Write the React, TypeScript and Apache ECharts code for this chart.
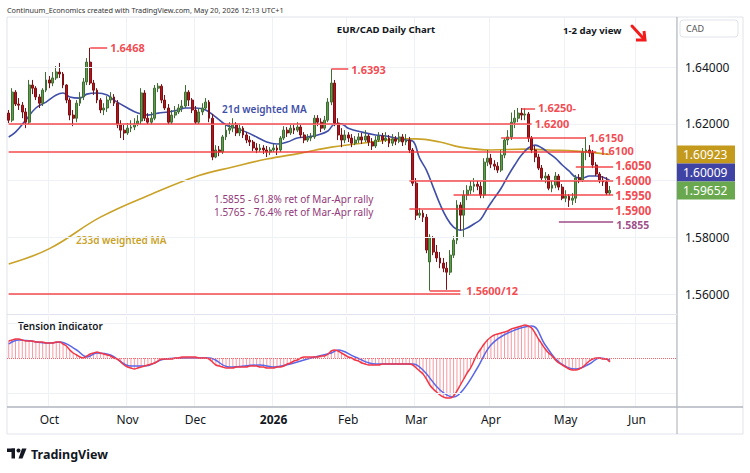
import React, { useEffect, useRef } from "react";
import * as echarts from "echarts";

const FONT = "'Noto Sans', 'DejaVu Sans', sans-serif";

// ---------- categories: daily (weekday) sessions, Sep 15 2025 .. Jun 16 2026 ----------
function buildDates(): string[] {
  const out: string[] = [];
  const d = new Date(Date.UTC(2025, 8, 15));
  const end = Date.UTC(2026, 5, 16);
  while (d.getTime() <= end) {
    const wd = d.getUTCDay();
    if (wd !== 0 && wd !== 6) out.push(d.toISOString().slice(0, 10));
    d.setUTCDate(d.getUTCDate() + 1);
  }
  return out;
}
const dates = buildDates();
const monthNames: Record<number, string> = { 10: "Oct", 11: "Nov", 12: "Dec", 1: "2026", 2: "Feb", 3: "Mar", 4: "Apr", 5: "May", 6: "Jun" };

// ---------- EUR/CAD daily OHLC ----------
const opens = [
  1.6238, 1.6213, 1.6312, 1.6270, 1.6266, 1.6242, 1.6206, 1.6337, 1.6326, 1.6295,
  1.6273, 1.6319, 1.6355, 1.6344, 1.6362, 1.6383, 1.6376, 1.6337, 1.6284, 1.6231,
  1.6220, 1.6273, 1.6295, 1.6348, 1.6418, 1.6344, 1.6319, 1.6284, 1.6249, 1.6256,
  1.6284, 1.6295, 1.6273, 1.6196, 1.6178, 1.6168, 1.6185, 1.6189, 1.6199, 1.6210,
  1.6309, 1.6220, 1.6206, 1.6220, 1.6326, 1.6333, 1.6284, 1.6256, 1.6206, 1.6231,
  1.6242, 1.6256, 1.6263, 1.6312, 1.6284, 1.6249, 1.6206, 1.6242, 1.6256, 1.6277,
  1.6220, 1.6083, 1.6108, 1.6101, 1.6154, 1.6178, 1.6185, 1.6196, 1.6168, 1.6185,
  1.6161, 1.6143, 1.6136, 1.6115, 1.6108, 1.6115, 1.6108, 1.6101, 1.6108, 1.6115,
  1.6108, 1.6150, 1.6178, 1.6168, 1.6185, 1.6178, 1.6189, 1.6161, 1.6143, 1.6150,
  1.6154, 1.6220, 1.6206, 1.6185, 1.6213, 1.6277, 1.6344, 1.6203, 1.6161, 1.6143,
  1.6161, 1.6150, 1.6132, 1.6143, 1.6154, 1.6143, 1.6157, 1.6136, 1.6122, 1.6143,
  1.6157, 1.6143, 1.6150, 1.6132, 1.6147, 1.6139, 1.6154, 1.6136, 1.6143, 1.6108,
  1.5991, 1.5878, 1.5885, 1.5871, 1.5713, 1.5797, 1.5748, 1.5727, 1.5709, 1.5691,
  1.5677, 1.5737, 1.5790, 1.5914, 1.5878, 1.5949, 1.5966, 1.5980, 1.5987, 1.5980,
  1.5949, 1.6065, 1.6079, 1.6058, 1.6051, 1.6037, 1.6090, 1.6143, 1.6154, 1.6206,
  1.6220, 1.6238, 1.6231, 1.6235, 1.6150, 1.6108, 1.6083, 1.6044, 1.6009, 1.6016,
  1.5973, 1.5984, 1.6016, 1.5977, 1.5938, 1.5945, 1.5931, 1.5938, 1.6009, 1.6002,
  1.6101, 1.6108, 1.6097, 1.6055, 1.6023, 1.6002, 1.5995, 1.5956,
];
const closes = [
  1.6213, 1.6312, 1.6270, 1.6266, 1.6242, 1.6206, 1.6337, 1.6326, 1.6295, 1.6273,
  1.6319, 1.6355, 1.6344, 1.6362, 1.6383, 1.6376, 1.6337, 1.6284, 1.6231, 1.6220,
  1.6273, 1.6295, 1.6348, 1.6418, 1.6344, 1.6319, 1.6284, 1.6249, 1.6256, 1.6284,
  1.6295, 1.6273, 1.6196, 1.6178, 1.6168, 1.6185, 1.6189, 1.6199, 1.6210, 1.6309,
  1.6220, 1.6206, 1.6220, 1.6326, 1.6333, 1.6284, 1.6256, 1.6206, 1.6231, 1.6242,
  1.6256, 1.6263, 1.6312, 1.6284, 1.6249, 1.6206, 1.6242, 1.6256, 1.6277, 1.6220,
  1.6083, 1.6108, 1.6101, 1.6154, 1.6178, 1.6185, 1.6196, 1.6168, 1.6185, 1.6161,
  1.6143, 1.6136, 1.6115, 1.6108, 1.6115, 1.6108, 1.6101, 1.6108, 1.6115, 1.6108,
  1.6150, 1.6178, 1.6168, 1.6185, 1.6178, 1.6189, 1.6161, 1.6143, 1.6150, 1.6154,
  1.6220, 1.6206, 1.6185, 1.6213, 1.6277, 1.6344, 1.6203, 1.6161, 1.6143, 1.6161,
  1.6150, 1.6132, 1.6143, 1.6154, 1.6143, 1.6157, 1.6136, 1.6122, 1.6143, 1.6157,
  1.6143, 1.6150, 1.6132, 1.6147, 1.6139, 1.6154, 1.6136, 1.6143, 1.6108, 1.5991,
  1.5878, 1.5885, 1.5871, 1.5755, 1.5801, 1.5748, 1.5727, 1.5709, 1.5691, 1.5677,
  1.5737, 1.5790, 1.5914, 1.5878, 1.5949, 1.5966, 1.5980, 1.5987, 1.5980, 1.5949,
  1.6065, 1.6079, 1.6058, 1.6051, 1.6037, 1.6090, 1.6143, 1.6154, 1.6206, 1.6220,
  1.6238, 1.6231, 1.6235, 1.6150, 1.6108, 1.6083, 1.6044, 1.6009, 1.6016, 1.5973,
  1.5984, 1.6016, 1.5977, 1.5938, 1.5945, 1.5931, 1.5938, 1.6009, 1.6002, 1.6101,
  1.6108, 1.6097, 1.6055, 1.6023, 1.6002, 1.5995, 1.5956, 1.5965,
];
const highs = [
  1.6249, 1.6326, 1.6319, 1.6291, 1.6277, 1.6256, 1.6355, 1.6355, 1.6333, 1.6305,
  1.6326, 1.6383, 1.6369, 1.6383, 1.6404, 1.6415, 1.6383, 1.6340, 1.6291, 1.6249,
  1.6284, 1.6312, 1.6362, 1.6432, 1.6468, 1.6355, 1.6326, 1.6291, 1.6273, 1.6298,
  1.6312, 1.6305, 1.6284, 1.6213, 1.6196, 1.6203, 1.6213, 1.6220, 1.6231, 1.6326,
  1.6319, 1.6238, 1.6242, 1.6337, 1.6344, 1.6340, 1.6302, 1.6270, 1.6249, 1.6263,
  1.6270, 1.6284, 1.6337, 1.6319, 1.6291, 1.6263, 1.6256, 1.6273, 1.6291, 1.6284,
  1.6235, 1.6125, 1.6122, 1.6161, 1.6196, 1.6206, 1.6220, 1.6206, 1.6199, 1.6192,
  1.6171, 1.6157, 1.6143, 1.6132, 1.6129, 1.6125, 1.6122, 1.6118, 1.6129, 1.6125,
  1.6157, 1.6192, 1.6189, 1.6199, 1.6196, 1.6206, 1.6196, 1.6171, 1.6164, 1.6168,
  1.6231, 1.6231, 1.6220, 1.6228, 1.6291, 1.6393, 1.6355, 1.6220, 1.6185, 1.6178,
  1.6171, 1.6164, 1.6157, 1.6168, 1.6168, 1.6178, 1.6164, 1.6150, 1.6157, 1.6171,
  1.6168, 1.6171, 1.6161, 1.6164, 1.6157, 1.6171, 1.6164, 1.6164, 1.6154, 1.6115,
  1.6009, 1.5903, 1.5896, 1.5882, 1.5811, 1.5804, 1.5773, 1.5748, 1.5727, 1.5713,
  1.5755, 1.5804, 1.5931, 1.5924, 1.5966, 1.5984, 1.6002, 1.6009, 1.6002, 1.5995,
  1.6079, 1.6108, 1.6094, 1.6072, 1.6065, 1.6108, 1.6150, 1.6178, 1.6240, 1.6249,
  1.6256, 1.6256, 1.6255, 1.6242, 1.6157, 1.6122, 1.6094, 1.6055, 1.6030, 1.6023,
  1.6002, 1.6030, 1.6023, 1.5988, 1.5966, 1.5952, 1.5956, 1.6020, 1.6023, 1.6115,
  1.6153, 1.6125, 1.6108, 1.6065, 1.6030, 1.6016, 1.6012, 1.5981,
];
const lows = [
  1.6203, 1.6206, 1.6263, 1.6249, 1.6220, 1.6185, 1.6199, 1.6305, 1.6284, 1.6256,
  1.6263, 1.6312, 1.6326, 1.6333, 1.6355, 1.6362, 1.6326, 1.6273, 1.6213, 1.6192,
  1.6206, 1.6263, 1.6284, 1.6337, 1.6337, 1.6302, 1.6273, 1.6238, 1.6231, 1.6242,
  1.6273, 1.6263, 1.6185, 1.6150, 1.6143, 1.6161, 1.6171, 1.6178, 1.6192, 1.6199,
  1.6210, 1.6196, 1.6199, 1.6213, 1.6312, 1.6273, 1.6249, 1.6196, 1.6199, 1.6220,
  1.6235, 1.6242, 1.6256, 1.6263, 1.6238, 1.6196, 1.6199, 1.6231, 1.6249, 1.6206,
  1.6072, 1.6079, 1.6086, 1.6094, 1.6143, 1.6164, 1.6171, 1.6157, 1.6157, 1.6150,
  1.6132, 1.6122, 1.6104, 1.6097, 1.6101, 1.6094, 1.6083, 1.6090, 1.6101, 1.6090,
  1.6101, 1.6143, 1.6154, 1.6161, 1.6164, 1.6171, 1.6150, 1.6132, 1.6136, 1.6139,
  1.6147, 1.6192, 1.6171, 1.6178, 1.6206, 1.6266, 1.6192, 1.6143, 1.6118, 1.6132,
  1.6136, 1.6118, 1.6125, 1.6132, 1.6129, 1.6136, 1.6122, 1.6108, 1.6115, 1.6136,
  1.6129, 1.6136, 1.6118, 1.6122, 1.6125, 1.6132, 1.6122, 1.6125, 1.6097, 1.5981,
  1.5861, 1.5868, 1.5854, 1.5744, 1.5612, 1.5737, 1.5713, 1.5691, 1.5677, 1.5615,
  1.5667, 1.5727, 1.5776, 1.5825, 1.5797, 1.5931, 1.5952, 1.5959, 1.5966, 1.5938,
  1.5938, 1.6051, 1.6044, 1.6037, 1.6027, 1.6030, 1.6079, 1.6125, 1.6143, 1.6185,
  1.6206, 1.6213, 1.6213, 1.6136, 1.6097, 1.6065, 1.6037, 1.5998, 1.5991, 1.5966,
  1.5959, 1.5973, 1.5966, 1.5931, 1.5924, 1.5907, 1.5914, 1.5921, 1.5991, 1.5995,
  1.6072, 1.6083, 1.6044, 1.6016, 1.5991, 1.5981, 1.5949, 1.5949,
];

// ---------- moving averages (read at sample sessions: [session index, value]) ----------
const ma21Points = [
  [0, 1.6154], [2, 1.6171], [5, 1.6213], [8, 1.6256], [11, 1.6277], [14, 1.6302], [16, 1.6309],
  [18, 1.6295], [21, 1.6291], [23, 1.6305], [26, 1.6309], [29, 1.6302], [31, 1.6284], [35, 1.6256],
  [38, 1.6238], [41, 1.6231], [44, 1.6238], [47, 1.6242], [50, 1.6249], [52, 1.6256], [55, 1.6256],
  [58, 1.6249], [61, 1.6224], [64, 1.6196], [67, 1.6185], [70, 1.6171], [73, 1.6154], [76, 1.6136],
  [79, 1.6129], [82, 1.6136], [85, 1.6150], [88, 1.6154], [91, 1.6161], [94, 1.6175], [96, 1.6199],
  [98, 1.6199], [100, 1.6185], [104, 1.6171], [108, 1.6161], [111, 1.6157], [114, 1.6150], [117, 1.6143],
  [119, 1.6139], [121, 1.6079], [123, 1.6037], [125, 1.5977], [127, 1.5917], [129, 1.5868], [131, 1.5836],
  [133, 1.5825], [135, 1.5833], [137, 1.5847], [139, 1.5864], [141, 1.5903], [143, 1.5938], [145, 1.5973],
  [147, 1.6016], [149, 1.6055], [151, 1.6090], [153, 1.6115], [155, 1.6125], [157, 1.6115], [159, 1.6097],
  [161, 1.6079], [163, 1.6055], [165, 1.6034], [167, 1.6012], [169, 1.6009], [171, 1.6016], [173, 1.6016],
  [175, 1.6012], [177, 1.60009],
];
const ma233Points = [
  [0, 1.5706], [12, 1.5760], [27, 1.5871], [42, 1.5952], [56, 1.6018], [66, 1.6048], [76, 1.6076],
  [86, 1.6097], [95, 1.6118], [107, 1.6136], [116, 1.6147], [120, 1.6147], [127, 1.6136], [133, 1.6118],
  [142, 1.6108], [152, 1.6111], [159, 1.6108], [167, 1.6104], [177, 1.60923],
];

// ---------- Tension indicator ----------
const tension = [
  17, 18, 19, 19, 18, 17, 17, 17, 16, 16, 16, 15, 15, 15, 16, 16, 14, 12, 8, 5,
  3, 1, 0, 2, 4, 5, 6, 5, 4, 3, 2, 0, -1, -4, -7, -9, -10, -11, -10, -9,
  -8, -7, -6, -5, -3, -1, -1, -1, -1, 0, 0, 1, 1, 1, 1, 1, 0, 0, 0, -1,
  -4, -7, -8, -9, -10, -10, -10, -9, -9, -9, -9, -8, -8, -8, -9, -9, -10, -10, -10, -9,
  -9, -8, -6, -5, -3, -2, 0, 1, 1, 1, 1, 1, 2, 2, 4, 7, 8, 7, 5, 3,
  1, 0, -2, -3, -5, -6, -7, -7, -7, -7, -6, -6, -6, -6, -6, -6, -6, -6, -6, -7,
  -10, -13, -16, -21, -27, -31, -34, -37, -39, -40, -40, -38, -33, -27, -21, -15, -10, -3, 4, 9,
  14, 18, 21, 23, 24, 25, 26, 27, 29, 30, 31, 32, 33, 32, 30, 25, 19, 14, 9, 5,
  2, -2, -5, -7, -9, -11, -12, -12, -11, -9, -6, -3, -1, 0, 0, -1, -1, -4,
];
const tensionSignal = [
  [0, 14], [3, 18], [12, 15], [15, 16], [20, 8], [23, 1], [26, 5], [30, 3], [36, -8], [40, -8],
  [46, -1], [53, 0], [59, 0], [65, -9], [74, -7], [78, -9], [84, -5], [89, 0], [95, 5], [97, 8],
  [102, 1], [108, -6], [119, -6], [122, -12], [127, -32], [131, -39], [134, -31], [138, -10],
  [142, 13], [147, 25], [154, 32], [158, 13], [162, -4], [167, -11], [171, -6], [174, 0], [177, -2],
];

const priceTicks = [1.56, 1.58, 1.62, 1.64];
const priceGrid = [1.56, 1.58, 1.6, 1.62, 1.64];
const lastClose = 1.59652;
const lastMa21 = 1.60009;
const lastMa233 = 1.60923;

const RED = "#f2343b";
const PURPLE = "#93387a";
const levels = [
  { p: 1.6468, a: 24, b: 29, t: "1.6468", c: RED, fs: 11, d: 3, dy: 0 },
  { p: 1.6393, a: 95, b: 100, t: "1.6393", c: RED, fs: 11, d: 3, dy: 0 },
  { p: 1.6255, a: 151, b: 155, t: "1.6250-", c: RED, fs: 11, d: 3, dy: -1 },
  { p: 1.62, a: 0, b: 154, t: "1.6200", c: RED, fs: 11, d: 3, dy: 0 },
  { p: 1.615, a: 145, b: 170, t: "1.6150", c: RED, fs: 11, d: 3, dy: -1 },
  { p: 1.61, a: 0, b: 173, t: "1.6100", c: RED, fs: 11, d: 3, dy: -2 },
  { p: 1.605, a: 167, b: 178, t: "1.6050", c: RED, fs: 11.5, d: 2, dy: -1 },
  { p: 1.6, a: 118, b: 178, t: "1.6000", c: RED, fs: 11.5, d: 2, dy: 0 },
  { p: 1.595, a: 131, b: 178, t: "1.5950", c: RED, fs: 11.5, d: 2, dy: 1 },
  { p: 1.59, a: 118, b: 178, t: "1.5900", c: RED, fs: 11.5, d: 2, dy: 1.5 },
  { p: 1.5855, a: 162, b: 178, t: "1.5855", c: PURPLE, fs: 10.5, d: 3, dy: 3 },
  { p: 1.56, a: 0, b: 133, t: "", c: RED, fs: 11, d: 3, dy: 0 },
  { p: 1.5612, a: 124, b: 133, t: "1.5600/12", c: RED, fs: 11, d: 6, dy: 0 },
];

export default function App() {
  const ref = useRef<HTMLDivElement>(null);
  useEffect(() => {
    if (!ref.current) return;
    const chart = echarts.init(ref.current, undefined, { renderer: "svg" });

    const monthStart = new Set<number>();
    for (let i = 1; i < dates.length; i++) {
      if (dates[i].slice(5, 7) !== dates[i - 1].slice(5, 7)) monthStart.add(i);
    }
    const isMonth = (idx: number) => monthStart.has(idx);
    const candleData = opens.map((o, i) => [o, closes[i], lows[i], highs[i]]);
    const toCat = (pts: number[][]) => pts.map((p) => [dates[p[0]], p[1]]);

    const option: any = {
      animation: false,
      backgroundColor: "#ffffff",
      grid: [
        { left: 7, right: 74, top: 17, height: 296 },
        { left: 7, right: 74, top: 316, height: 91 },
      ],
      xAxis: [
        {
          type: "category", gridIndex: 0, data: dates, boundaryGap: true,
          axisLine: { show: false }, axisTick: { show: false }, axisLabel: { show: false },
          splitLine: { show: true, interval: (i: number) => isMonth(i), lineStyle: { color: "#eef1f6", width: 1 } },
        },
        {
          type: "category", gridIndex: 1, data: dates, boundaryGap: true,
          axisLine: { show: false }, axisTick: { show: false },
          axisLabel: {
            interval: (i: number) => isMonth(i),
            formatter: (v: string) => {
              const m = parseInt(v.slice(5, 7), 10);
              const name = monthNames[m] || "";
              return m === 1 ? "{b|" + name + "}" : name;
            },
            color: "#131722", fontSize: 12, fontFamily: FONT, margin: 6,
            rich: { b: { fontWeight: "bold", fontSize: 12, fontFamily: FONT, color: "#131722" } },
          },
          splitLine: { show: true, interval: (i: number) => isMonth(i), lineStyle: { color: "#eef1f6", width: 1 } },
        },
      ],
      yAxis: [
        {
          type: "value", gridIndex: 0, position: "right", min: 1.5533, max: 1.6577, scale: true,
          axisLine: { show: false }, axisTick: { show: false }, splitLine: { show: false },
          axisLabel: {
            customValues: priceTicks, formatter: (v: number) => v.toFixed(5),
            color: "#131722", fontSize: 12, fontFamily: FONT, margin: 9,
          },
        },
        {
          type: "value", gridIndex: 1, position: "right", min: -49, max: 42,
          axisLine: { show: false }, axisTick: { show: false }, splitLine: { show: false }, axisLabel: { show: false },
        },
      ],
      series: [
        {
          type: "line", xAxisIndex: 0, yAxisIndex: 0, data: [], z: 1, silent: true,
          markLine: {
            silent: true, symbol: ["none", "none"], label: { show: false },
            lineStyle: { color: "#eef1f6", width: 1, type: "solid" },
            data: priceGrid.map((v) => ({ yAxis: v })),
          },
        },
        {
          type: "line", xAxisIndex: 0, yAxisIndex: 0, data: toCat(ma233Points), smooth: 0.4,
          showSymbol: false, silent: true, z: 2, lineStyle: { color: "#c9a227", width: 1.6 },
        },
        {
          type: "line", xAxisIndex: 0, yAxisIndex: 0, data: toCat(ma21Points), smooth: 0.4,
          showSymbol: false, silent: true, z: 2, lineStyle: { color: "#3f4fa8", width: 1.6 },
        },
        {
          type: "candlestick", xAxisIndex: 0, yAxisIndex: 0, data: candleData, barWidth: "70%", silent: true, z: 3,
          itemStyle: { color: "#5f9c4c", color0: "#b5141c", borderColor: "#3f6e33", borderColor0: "#7e1015", borderWidth: 1 },
          markLine: {
            silent: true, symbol: ["none", "none"], z: 5,
            data: levels.map((l) => [
              {
                coord: [dates[l.a], l.p],
                lineStyle: { color: l.c, width: 1.5, type: "solid", opacity: 0.9 },
                label: {
                  show: l.t !== "", position: "end", formatter: l.t, color: l.c, fontSize: l.fs,
                  lineHeight: Math.round(l.fs), padding: 0, offset: [0, l.dy],
                  fontWeight: "bold", fontFamily: FONT, distance: l.d,
                },
              },
              { coord: [dates[l.b], l.p] },
            ]),
          },
        },
        {
          type: "bar", xAxisIndex: 1, yAxisIndex: 1, data: tension, barWidth: 1, silent: true,
          itemStyle: { color: "rgba(242,54,69,0.5)" },
          markLine: {
            silent: true, symbol: ["none", "none"], label: { show: false },
            data: [
              { yAxis: 35, lineStyle: { color: "#eef1f6", width: 1, type: "solid" } },
              { yAxis: -35, lineStyle: { color: "#eef1f6", width: 1, type: "solid" } },
              { yAxis: 0, lineStyle: { color: "#f2656d", width: 1, type: "dotted" } },
            ],
          },
        },
        {
          type: "line", xAxisIndex: 1, yAxisIndex: 1, data: toCat(tensionSignal), smooth: 0.4,
          showSymbol: false, silent: true, lineStyle: { color: "#5a67e8", width: 1.5 },
        },
        {
          type: "line", xAxisIndex: 1, yAxisIndex: 1, data: tension, smooth: 0.3,
          showSymbol: false, silent: true, lineStyle: { color: "#f23645", width: 1.5 },
        },
      ],
    };
    chart.setOption(option);

    const yOf = (v: number) => chart.convertToPixel({ yAxisIndex: 0 }, v) as number;
    const TAG_H = 18;
    const yGreen = yOf(lastClose);
    let yBlue = yOf(lastMa21);
    let yGold = yOf(lastMa233);
    if (yGreen - yBlue < TAG_H) yBlue = yGreen - TAG_H;
    if (yBlue - yGold < TAG_H) yGold = yBlue - TAG_H;
    const tag = (y: number, color: string, text: string) => ({
      type: "group",
      children: [
        { type: "rect", shape: { x: 677, y: y - TAG_H / 2, width: 58, height: TAG_H }, style: { fill: color } },
        {
          type: "text", x: 683, y: y,
          style: { text, fill: "#ffffff", fontSize: 12, lineHeight: 14, fontFamily: FONT, verticalAlign: "middle", align: "left" },
        },
      ],
    });

    const txt = (x: number, y: number, text: string, extra: any) => ({
      type: "text", x, y,
      style: Object.assign({ text, fontFamily: FONT, verticalAlign: "middle", align: "left" }, extra),
    });

    const graphic: any[] = [
      { type: "rect", shape: { x: 7, y: 17, width: 736, height: 417 }, style: { fill: "none", stroke: "#e0e3eb", lineWidth: 1 }, silent: true },
      { type: "line", shape: { x1: 677, y1: 17, x2: 677, y2: 434 }, style: { stroke: "#a9acb5", lineWidth: 1 } },
      { type: "line", shape: { x1: 7, y1: 314.5, x2: 677, y2: 314.5 }, style: { stroke: "#e0e3eb", lineWidth: 1 } },
      { type: "line", shape: { x1: 7, y1: 407, x2: 743, y2: 407 }, style: { stroke: "#b2b5be", lineWidth: 1.5 } },
      txt(7, 10, "Continuum_Economics created with TradingView.com, May 20, 2026 12:13 UTC+1", { fontSize: 7.3, fill: "#333333" }),
      txt(386, 29, "EUR/CAD Daily Chart", { fontSize: 9.6, fontWeight: "bold", fill: "#131722", align: "center" }),
      txt(563, 30, "1-2 day view", { fontSize: 9.6, fontWeight: "bold", fill: "#131722" }),
      { type: "polyline", shape: { points: [[632, 26], [643, 38]] }, style: { stroke: "#f21c1c", lineWidth: 3, lineCap: "round" } },
      { type: "polyline", shape: { points: [[636, 40], [645, 40], [644, 31]] }, style: { stroke: "#f21c1c", lineWidth: 3, fill: "none", lineJoin: "miter" } },
      txt(222, 109, "21d weighted MA", { fontSize: 10, fontWeight: 600, fill: "#3f4fa8" }),
      txt(76, 240, "233d weighted MA", { fontSize: 10, fontWeight: 600, fill: "#c9a227" }),
      txt(214, 198.5, "1.5855 - 61.8% ret of Mar-Apr rally", { fontSize: 10, lineHeight: 10, fill: PURPLE }),
      txt(214, 211.5, "1.5765 - 76.4% ret of Mar-Apr rally", { fontSize: 10, lineHeight: 10, fill: PURPLE }),
      txt(18, 326, "Tension Indicator", { fontSize: 10, fontWeight: 600, fill: "#131722" }),
      { type: "rect", shape: { x: 680, y: 20, width: 58, height: 17, r: 3 }, style: { fill: "#ffffff", stroke: "#e0e3eb", lineWidth: 1 } },
      txt(686, 28.5, "CAD", { fontSize: 9, fill: "#555555" }),
      tag(yGold, "#c49a1c", lastMa233.toFixed(5)),
      tag(yBlue, "#3f43a3", lastMa21.toFixed(5)),
      tag(yGreen, "#6aa84f", lastClose.toFixed(5)),
      // TradingView logo
      { type: "rect", shape: { x: 7, y: 448.5, width: 8, height: 3.5 }, style: { fill: "#131722" } },
      { type: "rect", shape: { x: 11.5, y: 448.5, width: 3.5, height: 10 }, style: { fill: "#131722" } },
      { type: "circle", shape: { cx: 18.5, cy: 450.5, r: 2 }, style: { fill: "#131722" } },
      { type: "polygon", shape: { points: [[22, 448.5], [26.5, 448.5], [22.5, 458.5], [18.5, 458.5]] }, style: { fill: "#131722" } },
      txt(31, 454, "TradingView", { fontSize: 12.5, fontWeight: "bold", fill: "#131722" }),
    ];
    chart.setOption({ graphic });

    return () => chart.dispose();
  }, []);
  return <div ref={ref} style={{ position: "absolute", left: 0, top: 0, width: 750, height: 473 }} />;
}
